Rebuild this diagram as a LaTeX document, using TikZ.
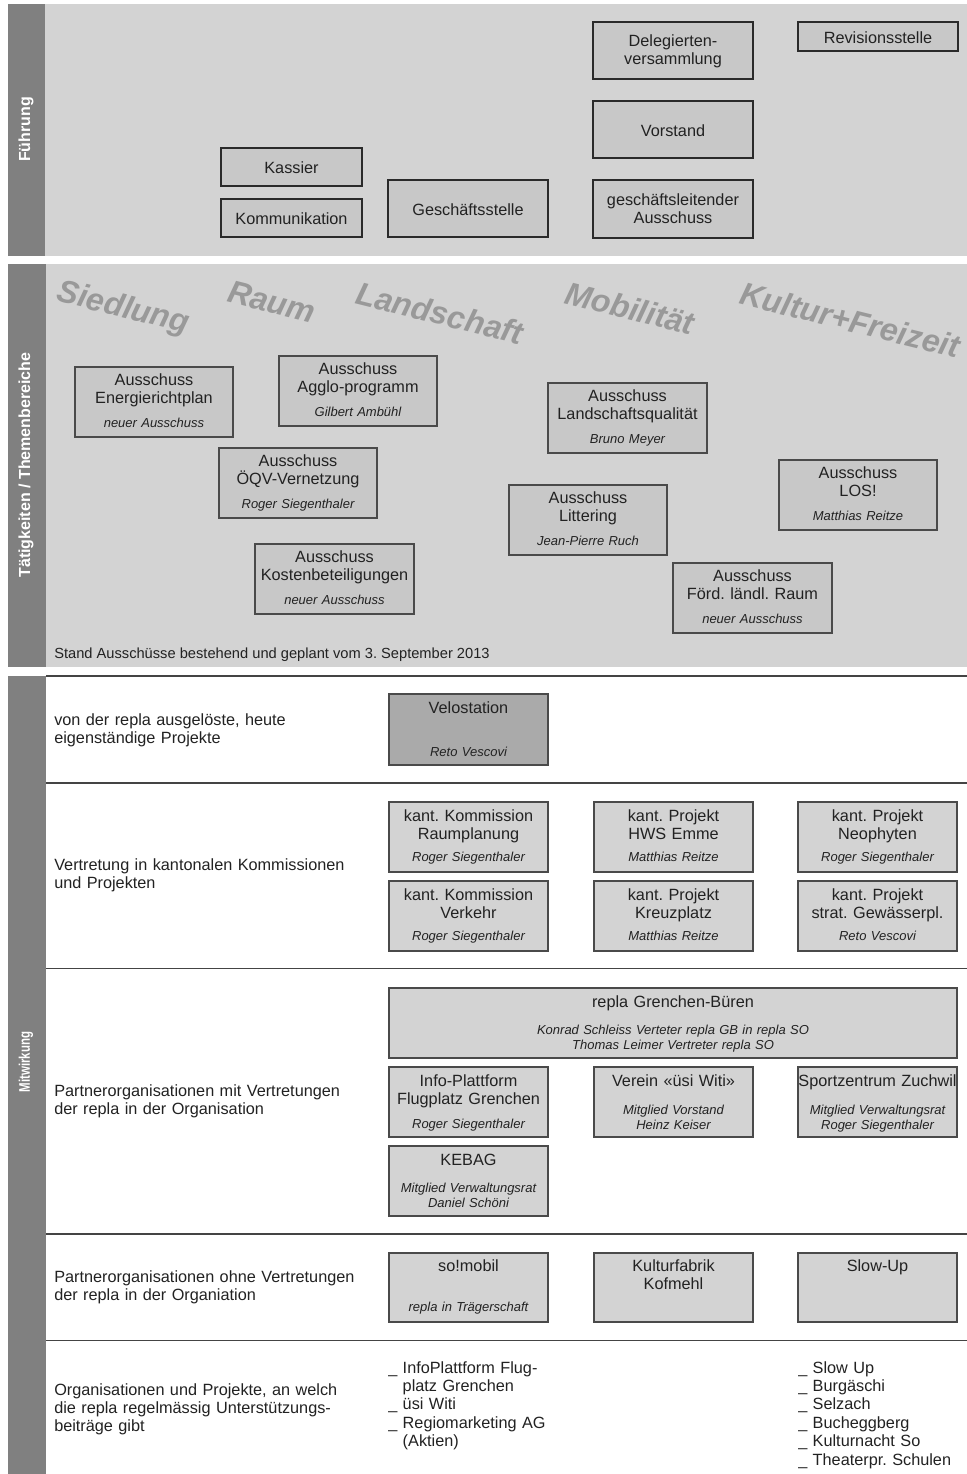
\documentclass[tikz,border=0pt]{standalone}
\usepackage{fontspec}
\setmainfont{Liberation Sans}
\usetikzlibrary{fit}
\frenchspacing
\definecolor{barc}{HTML}{808080}
\definecolor{panel}{HTML}{D3D3D3}
\definecolor{boxfill}{HTML}{C8C8C8}
\definecolor{velo}{HTML}{AAAAAA}
\definecolor{ink}{HTML}{222222}
\definecolor{fline}{HTML}{2A2A2A}
\definecolor{aline}{HTML}{4A4A4A}
\definecolor{sline}{HTML}{444444}
\definecolor{wmc}{HTML}{999999}
\newcommand\bx[6]{\node[#1, fit={(#3,#4)(#5,#6)}] (#2) {};}
\tikzset{
  area/.style={fill=panel, draw=none, inner sep=0pt},
  barS/.style={fill=barc, draw=none, inner sep=0pt},
  fbox/.style={draw=fline, line width=1.6pt, fill=boxfill, inner sep=0pt},
  abox/.style={draw=aline, line width=0.9pt, fill=boxfill, inner sep=0pt},
  mbox/.style={draw=aline, line width=0.8pt, fill=panel, inner sep=0pt},
  vbox/.style={draw=aline, line width=0.8pt, fill=velo, inner sep=0pt},
  ttl/.style={font=\fontsize{12.2}{13.5}\selectfont\frenchspacing, text=ink, align=center, text width=150pt, anchor=base, inner sep=0pt},
  wttl/.style={ttl, text width=400pt},
  nm/.style={font=\fontsize{9.75}{11.25}\selectfont\itshape\frenchspacing, text=ink, align=center, text width=150pt, anchor=base, inner sep=0pt},
  wnm/.style={nm, text width=400pt},
  lbl/.style={font=\fontsize{12.2}{13.5}\selectfont\frenchspacing, text=ink, align=left, text width=330pt, anchor=base west, inner sep=0pt},
  lst/.style={font=\fontsize{12.2}{13.8}\selectfont\frenchspacing, text=ink, align=left, text width=200pt, anchor=base west, inner sep=0pt},
  vlab/.style={font=\fontsize{12}{12}\selectfont\bfseries, text=white, rotate=90, inner sep=0pt},
  wm/.style={font=\fontsize{24}{24}\selectfont\bfseries\itshape, text=wmc, rotate=-14, inner sep=0pt},
  sepline/.style={draw=sline, line width=1pt},
}
\begin{document}
\begin{tikzpicture}[x=0.75pt,y=-0.75pt]
\useasboundingbox[fill=white] (0,0) rectangle (967,1474);
% ---------- panels and bars
\bx{area}{p1}{8}{4}{967}{256}
\bx{area}{p2}{8}{264}{967}{667}
\bx{barS}{b1}{8}{4}{45}{256}
\bx{barS}{b2}{8}{264}{46}{667}
\bx{barS}{b3}{8}{676}{46}{1474}
\node[vlab] (l1) at (26,129.5) {Führung};
\node[vlab] (l2) at (26,465) {Tätigkeiten / Themenbereiche};
\node[vlab, font=\fontsize{11.5}{11.5}\selectfont\bfseries] (l3) at (26,1062) {\scalebox{0.75}[1]{Mitwirkung}};
% ---------- Führung
\bx{fbox}{deleg}{593}{22}{753}{79}
\bx{fbox}{revis}{798}{22}{958}{51}
\bx{fbox}{vorst}{593}{101}{753}{158}
\bx{fbox}{gla}{593}{180}{753}{238}
\bx{fbox}{gst}{388}{180}{548}{237}
\bx{fbox}{kass}{221}{148}{362}{186}
\bx{fbox}{komm}{221}{199}{362}{237}
\node[ttl] (tdeleg) at (673,46.5) {Delegierten-\\versammlung};
\node[ttl] (trevis) at (878,43.5) {Revisionsstelle};
\node[ttl] (tvorst) at (673,136) {Vorstand};
\node[ttl] (tgla) at (673,205) {geschäftsleitender\\Ausschuss};
\node[ttl] (tgst) at (468,215.5) {Geschäftsstelle};
\node[ttl] (tkass) at (291.5,173) {Kassier};
\node[ttl] (tkomm) at (291.5,224) {Kommunikation};
% ---------- Themenbereiche
\node[wm] (w1) at (123,309) {Siedlung};
\node[wm] (w2) at (272,302) {Raum};
\node[wm] (w3) at (440,313) {Landschaft};
\node[wm] (w4) at (630,308) {Mobilität};
\node[wm] (w5) at (850,320) {Kultur+Freizeit};
\bx{abox}{energ}{75}{367}{233}{437}
\bx{abox}{agglo}{279}{356}{437}{426}
\bx{abox}{oeqv}{219}{448}{377}{518}
\bx{abox}{kost}{255}{544}{414}{614}
\bx{abox}{lsq}{548}{383}{707}{453}
\bx{abox}{litt}{509}{485}{667}{555}
\bx{abox}{los}{779}{460}{937}{530}
\bx{abox}{foerd}{673}{563}{832}{633}
\node[ttl] (tenerg) at (154,385.5) {Ausschuss\\Energierichtplan};
\node[nm] (nenerg) at (154,427) {neuer Ausschuss};
\node[ttl] (tagglo) at (358,374.5) {Ausschuss\\Agglo-programm};
\node[nm] (nagglo) at (358,416) {Gilbert Ambühl};
\node[ttl] (toeqv) at (298,466.5) {Ausschuss\\ÖQV-Vernetzung};
\node[nm] (noeqv) at (298,508) {Roger Siegenthaler};
\node[ttl] (tkost) at (334.5,562.5) {Ausschuss\\Kostenbeteiligungen};
\node[nm] (nkost) at (334.5,604) {neuer Ausschuss};
\node[ttl] (tlsq) at (627.5,401.5) {Ausschuss\\Landschaftsqualität};
\node[nm] (nlsq) at (627.5,443) {Bruno Meyer};
\node[ttl] (tlitt) at (588,503.5) {Ausschuss\\Littering};
\node[nm] (nlitt) at (588,545) {Jean-Pierre Ruch};
\node[ttl] (tlos) at (858,478.5) {Ausschuss\\LOS!};
\node[nm] (nlos) at (858,520) {Matthias Reitze};
\node[ttl] (tfoerd) at (752.5,581.5) {Ausschuss\\Förd. ländl. Raum};
\node[nm] (nfoerd) at (752.5,623) {neuer Ausschuss};
\node[anchor=base west, inner sep=0pt, text=ink, font=\fontsize{11}{13}\selectfont\frenchspacing] (stand) at (54,658) {Stand Ausschüsse bestehend und geplant vom 3. September 2013};
% ---------- Mitwirkung
\draw[sepline] (46,676) -- (967,676);
\draw[sepline] (46,783) -- (967,783);
\draw[sepline] (46,968.5) -- (967,968.5);
\draw[sepline] (46,1234) -- (967,1234);
\draw[sepline] (46,1340.5) -- (967,1340.5);
\node[lbl] (r1) at (54,725) {von der repla ausgelöste, heute\\eigenständige Projekte};
\node[lbl] (r2) at (54,870.5) {Vertretung in kantonalen Kommissionen\\und Projekten};
\node[lbl] (r3) at (54,1096.5) {Partnerorganisationen mit Vertretungen\\der repla in der Organisation};
\node[lbl] (r4) at (54,1282) {Partnerorganisationen ohne Vertretungen\\der repla in der Organiation};
\node[lbl] (r5) at (54,1395) {Organisationen und Projekte, an welch\\die repla regelmässig Unterstützungs-\\beiträge gibt};
\bx{vbox}{velo}{389}{694}{548}{765}
\bx{mbox}{kr}{389}{802}{548}{872}
\bx{mbox}{kv}{389}{881}{548}{951}
\bx{mbox}{hws}{594}{802}{753}{872}
\bx{mbox}{kreuz}{594}{881}{753}{951}
\bx{mbox}{neo}{798}{802}{957}{872}
\bx{mbox}{gew}{798}{881}{957}{951}
\bx{mbox}{rgb}{389}{988}{957}{1058}
\bx{mbox}{info}{389}{1067}{548}{1137}
\bx{mbox}{verein}{594}{1067}{753}{1137}
\bx{mbox}{sport}{798}{1067}{957}{1137}
\bx{mbox}{kebag}{389}{1146}{548}{1216}
\bx{mbox}{somob}{389}{1253}{548}{1322}
\bx{mbox}{kultf}{594}{1253}{753}{1322}
\bx{mbox}{slow}{798}{1253}{957}{1322}
\node[ttl] (tvelo) at (468.5,713.5) {Velostation};
\node[nm] (nvelo) at (468.5,756) {Reto Vescovi};
\node[ttl] (tkr) at (468.5,821) {kant. Kommission\\Raumplanung};
\node[nm] (nkr) at (468.5,861.5) {Roger Siegenthaler};
\node[ttl] (tkv) at (468.5,900) {kant. Kommission\\Verkehr};
\node[nm] (nkv) at (468.5,940.5) {Roger Siegenthaler};
\node[ttl] (thws) at (673.5,821) {kant. Projekt\\HWS Emme};
\node[nm] (nhws) at (673.5,861.5) {Matthias Reitze};
\node[ttl] (tkreuz) at (673.5,900) {kant. Projekt\\Kreuzplatz};
\node[nm] (nkreuz) at (673.5,940.5) {Matthias Reitze};
\node[ttl] (tneo) at (877.5,821) {kant. Projekt\\Neophyten};
\node[nm] (nneo) at (877.5,861.5) {Roger Siegenthaler};
\node[ttl] (tgew) at (877.5,900) {kant. Projekt\\strat. Gewässerpl.};
\node[nm] (ngew) at (877.5,940.5) {Reto Vescovi};
\node[wttl] (trgb) at (673,1007) {repla Grenchen-Büren};
\node[wnm] (nrgb) at (673,1034.5) {Konrad Schleiss Verteter repla GB in repla SO\\Thomas Leimer Vertreter repla SO};
\node[ttl] (tinfo) at (468.5,1086) {Info-Plattform\\Flugplatz Grenchen};
\node[nm] (ninfo) at (468.5,1128.5) {Roger Siegenthaler};
\node[ttl] (tverein) at (673.5,1086) {Verein «üsi Witi»};
\node[nm] (nverein) at (673.5,1114) {Mitglied Vorstand\\Heinz Keiser};
\node[ttl] (tsport) at (877.5,1086) {Sportzentrum Zuchwil};
\node[nm] (nsport) at (877.5,1114) {Mitglied Verwaltungsrat\\Roger Siegenthaler};
\node[ttl] (tkebag) at (468.5,1165) {KEBAG};
\node[nm] (nkebag) at (468.5,1192) {Mitglied Verwaltungsrat\\Daniel Schöni};
\node[ttl] (tsomob) at (468.5,1271.5) {so!mobil};
\node[nm] (nsomob) at (468.5,1311) {repla in Trägerschaft};
\node[ttl] (tkultf) at (673.5,1271.5) {Kulturfabrik\\Kofmehl};
\node[ttl] (tslow) at (877.5,1271.5) {Slow-Up};
\node[lst] (lista) at (388,1373) {\_ InfoPlattform Flug-\\\hphantom{\_\ }platz Grenchen\\\_ üsi Witi\\\_ Regiomarketing AG\\\hphantom{\_\ }(Aktien)};
\node[lst] (listb) at (798,1373) {\_ Slow Up\\\_ Burgäschi\\\_ Selzach\\\_ Bucheggberg\\\_ Kulturnacht So\\\_ Theaterpr. Schulen};
\end{tikzpicture}
\end{document}
